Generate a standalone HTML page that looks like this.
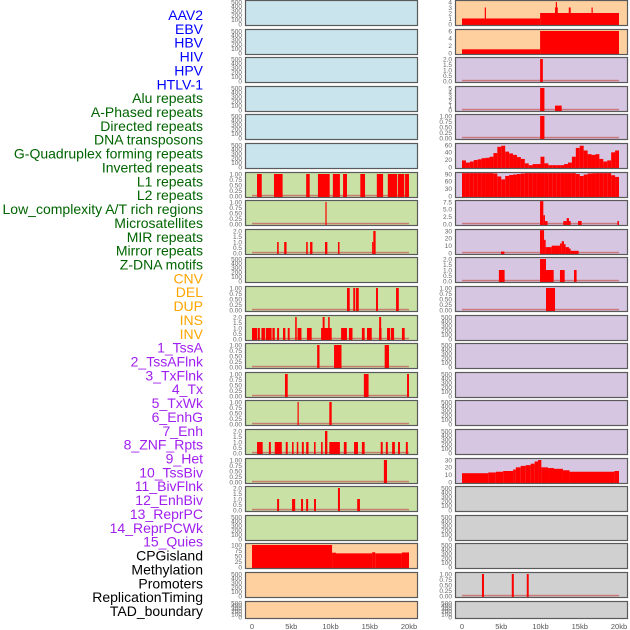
<!DOCTYPE html>
<html><head><meta charset="utf-8"><style>
html,body{margin:0;padding:0;background:#fff;}
svg{display:block;font-family:"Liberation Sans",sans-serif;}
</style></head><body>
<svg id="chart" width="630" height="630" viewBox="0 0 630 630" xmlns="http://www.w3.org/2000/svg"></svg>
<script>
// ---- labels ----
const trackLabels = ["AAV2","EBV","HBV","HIV","HPV","HTLV-1","Alu repeats","A-Phased repeats","Directed repeats","DNA transposons","G-Quadruplex forming repeats","Inverted repeats","L1 repeats","L2 repeats","Low_complexity A/T rich regions","Microsatellites","MIR repeats","Mirror repeats","Z-DNA motifs","CNV","DEL","DUP","INS","INV","1_TssA","2_TssAFlnk","3_TxFlnk","4_Tx","5_TxWk","6_EnhG","7_Enh","8_ZNF_Rpts","9_Het","10_TssBiv","11_BivFlnk","12_EnhBiv","13_ReprPC","14_ReprPCWk","15_Quies","CPGisland","Methylation","Promoters","ReplicationTiming","TAD_boundary"];
const labelColors = ["#0000ff","#0000ff","#0000ff","#0000ff","#0000ff","#0000ff","#006400","#006400","#006400","#006400","#006400","#006400","#006400","#006400","#006400","#006400","#006400","#006400","#006400","#ffa500","#ffa500","#ffa500","#ffa500","#ffa500","#a020f0","#a020f0","#a020f0","#a020f0","#a020f0","#a020f0","#a020f0","#a020f0","#a020f0","#a020f0","#a020f0","#a020f0","#a020f0","#a020f0","#a020f0","#000","#000","#000","#000","#000"];
const xTickValues = [0,5,10,15,20];
const xTickLabels = ["0","5kb","10kb","15kb","20kb"];
// ---- tick label sets ----
const ticksEmpty = ["0","100","200","300","400","500"];
const ticks01 = ["0.00","0.25","0.50","0.75","1.00"];
const ticks02 = ["0.0","0.5","1.0","1.5","2.0"];
const ticks04 = ["0","1","2","3","4"];
const ticks06 = ["0","2","4","6"];
const ticks05 = ["0","1","2","3","4","5"];
const ticks60 = ["0","20","40","60"];
const ticks90 = ["0","30","60","90"];
const ticks75 = ["0.0","2.5","5.0","7.5"];
const ticks30 = ["0","10","20","30"];
const ticks100 = ["0","25","50","75","100"];
// ---- data: [startKb, endKb, value] ----
const barsL6 = [[0.64,1.24,1],[2.8,3.9,1],[6.9,7.35,1],[8.4,9.9,1],[10.3,11.2,1],[11.6,12.1,1],[13.8,14.4,1],[15.9,16.7,1],[17.3,18.5,1],[18.6,19.4,1],[19.5,20,1]];
const barsL7 = [[9.35,9.5,1]];
const barsL8 = [[3.2,3.4,1],[4.1,4.4,1],[6.9,7.1,1],[7.4,7.7,1],[9.3,9.6,1],[10.95,11.15,1],[15.3,15.45,1],[15.45,15.75,2]];
const barsL10 = [[12.1,12.45,1],[12.9,13.15,1],[13.25,13.6,1],[15.8,16.05,1],[18.35,18.7,1]];
const barsL11 = [[0,0.64,1],[0.72,1.0,1],[1.2,1.65,1],[1.75,2.5,1],[2.6,2.9,1],[3.2,3.45,1],[3.95,4.25,1],[4.55,4.8,1],[5.5,5.7,2],[5.8,6.3,1],[7.0,7.6,1],[8.8,9.3,1],[9.0,9.25,2],[9.3,10.15,1],[9.7,9.9,2],[11.35,12.1,1],[12.35,12.8,1],[14.0,14.35,1],[14.65,15.25,1],[16.2,16.5,1],[16.2,16.45,2],[17.2,17.6,1],[17.7,18.1,1],[19.1,19.45,1]];
const barsL12 = [[8.3,8.6,1],[10.45,11.4,1],[16.9,17.45,1]];
const barsL13 = [[4.2,4.55,1],[14.25,14.85,1],[19.75,20,1]];
const barsL14 = [[5.8,5.95,1],[9.85,10.15,1]];
const barsL15 = [[0.64,1.36,1],[2.15,2.4,1],[2.9,3.8,1],[4.3,4.55,1],[5.1,5.3,1],[5.7,5.9,1],[6.35,6.6,1],[6.9,7.2,1],[7.9,8.1,1],[8.8,9.0,1],[9.3,9.6,2],[9.85,11.2,1],[11.7,12.05,1],[13.0,13.5,1],[14.0,14.35,1],[16.4,16.65,1],[17.05,17.3,1],[17.85,18.2,1],[18.6,18.85,1],[19.6,19.85,1]];
const barsL16 = [[16.8,17.2,1]];
const barsL17 = [[3.2,3.45,1],[5.1,5.5,1],[6.25,6.5,1],[6.9,7.15,1],[7.9,8.15,1],[13.4,13.75,1],[10.95,11.2,2]];
const barsL19 = [[0,10.2,100],[10.2,10.7,65],[10.7,15.3,62],[15.3,15.7,67],[15.7,19.1,62],[19.1,20,66]];
const barsR0 = [[0,9.95,1],[2.9,3.0,3],[9.95,20,2],[11.85,12.2,3],[11.95,12.05,4],[13.6,13.85,3],[16.5,16.65,3]];
const barsR1 = [[0,9.95,1],[9.95,20,6]];
const barsR2 = [[9.95,10.3,2]];
const barsR3 = [[9.95,10.5,5],[11.85,12.7,1]];
const barsR4 = [[9.95,10.5,1]];
const binsR5 = [18,12,15,19,21,24,25,28,38,55,58,42,37,33,27,22,10,5,8,8,28,10,5,5,5,5,8,12,28,52,58,45,35,33,35,22,15,18,40,45];
const binsR6 = [100,100,100,99,98,97,96,95,92,80,68,82,86,88,90,92,94,96,98,98,94,98,98,98,99,98,98,99,96,90,82,88,92,93,94,100,100,98,85,78];
const barsR7 = [[9.94,10.06,9],[10.06,10.36,8],[10.36,10.57,3],[10.57,10.9,1],[12.9,13.33,1],[13.33,13.63,2],[13.63,13.84,1],[14.78,15.24,1],[19.8,20,1]];
const barsR8 = [[4.97,5.4,2],[9.94,10.2,38],[10.2,10.45,33],[10.45,10.66,18],[10.66,11.42,8],[11.42,12.48,10],[12.48,12.7,13],[12.7,12.99,16],[12.99,13.2,12],[13.2,13.63,8],[13.63,13.84,6],[13.84,14.86,3]];
const barsR9 = [[4.7,5.43,1],[9.94,10.7,2],[10.7,11.68,1],[12.48,13.08,1],[14.27,14.6,1]];
const barsR10 = [[10.7,11.85,1]];
const barsR16 = [[0,3.34,12],[3.34,4.31,13],[4.31,5.24,14],[5.24,6.51,15],[6.51,6.85,17],[6.85,7.48,20],[7.48,8.12,22],[8.12,8.75,23],[8.75,9.26,25],[9.26,9.69,28],[9.69,10.11,30],[10.11,10.96,20],[10.96,11.72,19],[11.72,12.86,18],[12.86,13.7,16],[13.7,19.41,14],[19.41,20,15]];
const barsR20 = [[2.54,2.8,1],[6.34,6.6,1],[8.25,8.5,1]];

const BG = {blue:"#c9e4ec",green:"#c9e1a5",orange:"#fed0a0",purple:"#d6c6e2",gray:"#d0d0d0"};
function binsToBars(b){return b.map((v,i)=>[i*0.5,(i+1)*0.5,v]);}
const tracks = [
 {c:0,r:0,bg:"blue",t:ticksEmpty},{c:0,r:1,bg:"blue",t:ticksEmpty},{c:0,r:2,bg:"blue",t:ticksEmpty},
 {c:0,r:3,bg:"blue",t:ticksEmpty},{c:0,r:4,bg:"blue",t:ticksEmpty},{c:0,r:5,bg:"blue",t:ticksEmpty},
 {c:0,r:6,bg:"green",t:ticks01,b:barsL6},{c:0,r:7,bg:"green",t:ticks01,b:barsL7},
 {c:0,r:8,bg:"green",t:ticks02,b:barsL8},{c:0,r:9,bg:"green",t:ticksEmpty},
 {c:0,r:10,bg:"green",t:ticks01,b:barsL10},{c:0,r:11,bg:"green",t:ticks02,b:barsL11},
 {c:0,r:12,bg:"green",t:ticks01,b:barsL12},{c:0,r:13,bg:"green",t:ticks01,b:barsL13},
 {c:0,r:14,bg:"green",t:ticks01,b:barsL14},{c:0,r:15,bg:"green",t:ticks02,b:barsL15},
 {c:0,r:16,bg:"green",t:ticks01,b:barsL16},{c:0,r:17,bg:"green",t:ticks02,b:barsL17},
 {c:0,r:18,bg:"green",t:ticksEmpty},{c:0,r:19,bg:"orange",t:ticks100,b:barsL19,nobase:true},
 {c:0,r:20,bg:"orange",t:ticksEmpty},{c:0,r:21,bg:"orange",t:ticksEmpty},
 {c:1,r:0,bg:"orange",t:ticks04,b:barsR0,nobase:true},{c:1,r:1,bg:"orange",t:ticks06,b:barsR1,nobase:true},
 {c:1,r:2,bg:"purple",t:ticks02,b:barsR2},{c:1,r:3,bg:"purple",t:ticks05,b:barsR3},
 {c:1,r:4,bg:"purple",t:ticks01,b:barsR4},{c:1,r:5,bg:"purple",t:ticks60,b:binsToBars(binsR5),nobase:true},
 {c:1,r:6,bg:"purple",t:ticks90,b:binsToBars(binsR6),nobase:true},{c:1,r:7,bg:"purple",t:ticks75,b:barsR7},
 {c:1,r:8,bg:"purple",t:ticks30,b:barsR8},{c:1,r:9,bg:"purple",t:ticks02,b:barsR9},
 {c:1,r:10,bg:"purple",t:ticks01,b:barsR10},{c:1,r:11,bg:"purple",t:ticksEmpty},
 {c:1,r:12,bg:"purple",t:ticksEmpty},{c:1,r:13,bg:"purple",t:ticksEmpty},
 {c:1,r:14,bg:"purple",t:ticksEmpty},{c:1,r:15,bg:"purple",t:ticksEmpty},
 {c:1,r:16,bg:"purple",t:ticks30,b:barsR16,nobase:true},{c:1,r:17,bg:"gray",t:ticksEmpty},
 {c:1,r:18,bg:"gray",t:ticksEmpty},{c:1,r:19,bg:"gray",t:ticksEmpty},
 {c:1,r:20,bg:"gray",t:ticks01,b:barsR20},{c:1,r:21,bg:"gray",t:ticksEmpty}
];

const svg = document.getElementById('chart');
const NS = "http://www.w3.org/2000/svg";
function mk(tag, attrs, parent){const e=document.createElementNS(NS,tag);for(const k in attrs)e.setAttribute(k,attrs[k]);(parent||svg).appendChild(e);return e;}
const panelX = [245,455], panelW = 172, zeroX = [252,462], pxPerKb = 7.85;
function xScale(col,kb){return zeroX[col]+kb*pxPerKb;}
function rowTop(r){return Math.round(r*28.6)+0.5;}
function rowH(r){return r===21?17:25;}

// labels
trackLabels.forEach((lab,i)=>{
  const t = mk('text',{x:203,y:15+13.86*i+5,'text-anchor':'end','font-size':14,fill:labelColors[i]});
  t.textContent = lab;
  
  
});

tracks.forEach((tr,idx)=>{
  const g = mk('g',{});
  
  
  const top = rowTop(tr.r), h = rowH(tr.r), px = panelX[tr.c]+0.5;
  mk('rect',{x:px,y:top,width:panelW,height:h,fill:BG[tr.bg]},g);
  const maxV = parseFloat(tr.t[tr.t.length-1]);
  const y0 = top+h-1.5, y1 = top+1.5;
  const yS = v => y0 - (Math.min(v,maxV*1.04)/maxV)*(y0-y1);
  if(tr.b && !tr.nobase){
    const bl = mk('rect',{x:xScale(tr.c,0),y:y0-1.2,width:20*pxPerKb,height:1.5,fill:'#c86464','fill-opacity':0.8},g);
    
    
  }
  if(tr.b){
    tr.b.forEach(d=>{
      const x0 = xScale(tr.c,d[0]), x1 = xScale(tr.c,d[1]);
      const yy = yS(d[2]);
      const r = mk('rect',{x:x0,y:yy,width:Math.max(1.2,x1-x0),height:top+h-yy,fill:'#ff0000'},g);
      
      
    });
  }
  mk('rect',{x:px,y:top,width:panelW,height:h,fill:'none',stroke:'#5a5a5a','stroke-width':1.2},g);
  // y ticks
  tr.t.forEach(lbl=>{
    const v = parseFloat(lbl);
    const tt = mk('text',{x:panelX[tr.c]-3,y:yS(v)+2.3,'text-anchor':'end','font-size':6.5,fill:'#666'},g);
    tt.textContent = lbl;
    
    
  });
});

// x ticks
[0,1].forEach(col=>{
  xTickValues.forEach((v,i)=>{
    const t = mk('text',{x:xScale(col,v),y:629,'text-anchor':'middle','font-size':7.5,fill:'#555'});
    t.textContent = xTickLabels[i];
    
    
  });
});
</script>
</body></html>
